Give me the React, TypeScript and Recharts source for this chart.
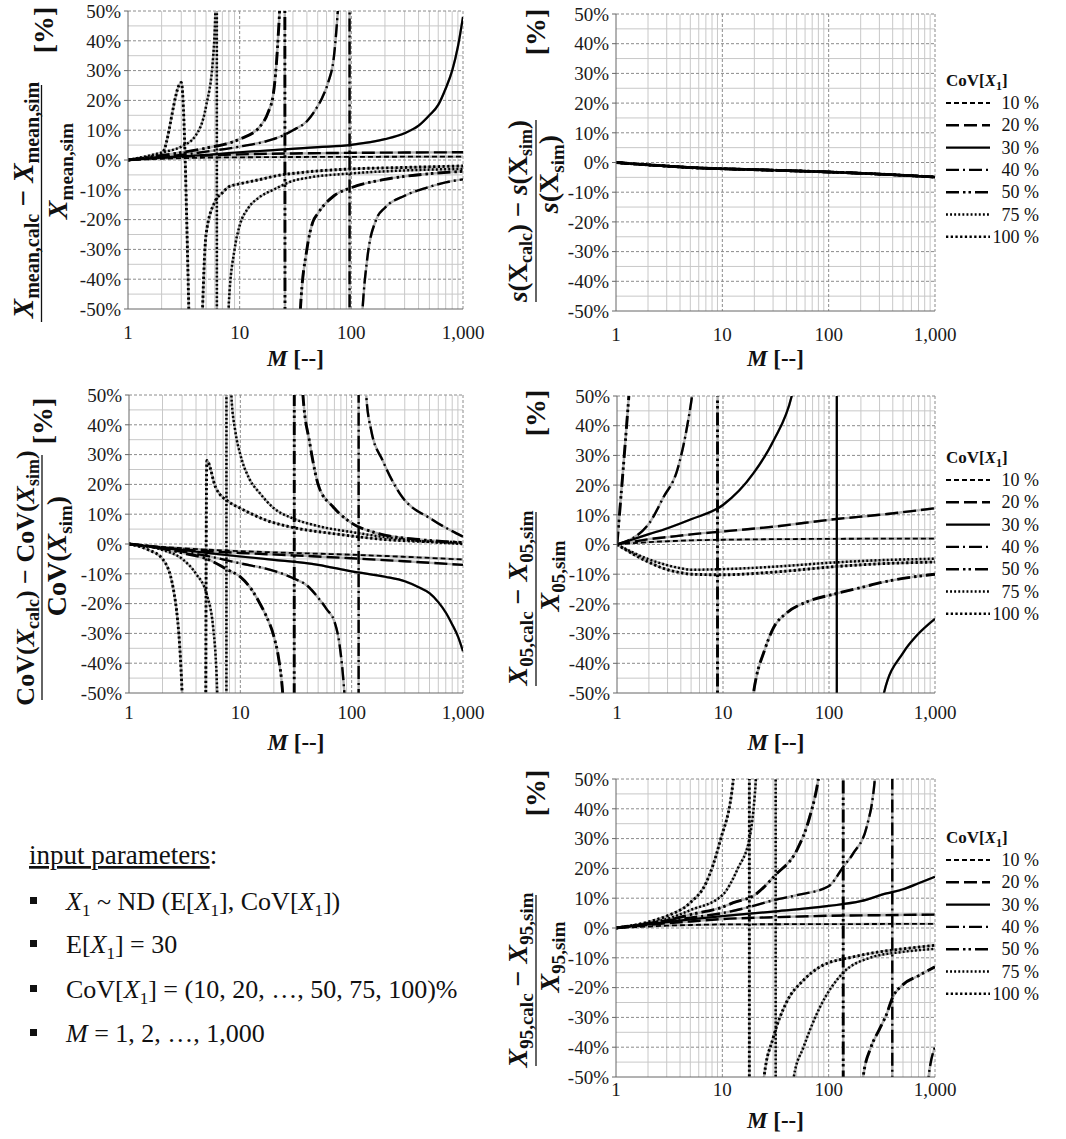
import React from 'react';
import { LineChart, Line, XAxis, YAxis, CartesianGrid } from 'recharts';

type Pt = [number, number];

const SERIF = "'Liberation Serif', 'Times New Roman', serif";

// ---------- axes / categories ----------
const covLabels = ['10 %', '20 %', '30 %', '40 %', '50 %', '75 %', '100 %'];
const decadeTicks = [1, 10, 100, 1000];
const yTicks = [-50, -40, -30, -20, -10, 0, 10, 20, 30, 40, 50];
const yMinorGrid = [-45, -35, -25, -15, -5, 5, 15, 25, 35, 45];
const yMajorGrid = [-40, -30, -20, -10, 0, 10, 20, 30, 40, 50];
const xMinorGrid = [2, 3, 4, 5, 6, 7, 8, 9, 20, 30, 40, 50, 60, 70, 80, 90, 200, 300, 400, 500, 600, 700, 800, 900];
const xMajorGrid = [10, 100, 1000];

// ---------- panel 1: mean ----------
const mean10: Pt[] = [[1, 0], [2, 0.4], [3, 0.6], [5, 0.8], [10, 0.9], [30, 1], [100, 1.05], [300, 1.1], [1000, 1.1]];
const mean20: Pt[] = [[1, 0], [2, 0.8], [3, 1.1], [5, 1.5], [10, 1.9], [30, 2.2], [100, 2.4], [300, 2.5], [1000, 2.6]];
const mean30: Pt[] = [[1, 0], [2, 0.8], [3, 1.2], [5, 1.7], [10, 2.6], [20, 3.3], [50, 4.3], [100, 5.1], [200, 7], [300, 9], [400, 11.5], [500, 15], [600, 18.5], [700, 24], [800, 30], [900, 38], [1000, 48]];
const mean40: Pt[] = [[1, 0], [2, 1], [3, 1.7], [5, 2.8], [10, 4.5], [20, 7], [25, 8.4], [30, 10], [40, 13], [48, 17], [55, 21], [62, 26], [70, 35], [75, 48], [80, 65], [90, 130], [96, 600], [97, -900], [105, -200], [115, -80], [126, -50], [140, -32], [167, -20], [200, -16], [300, -12], [500, -9], [700, -7.5], [1000, -6.5]];
const mean50: Pt[] = [[1, 0], [2, 1.5], [3, 2.5], [5, 4], [10, 7], [15, 11], [18, 16], [20, 22], [22, 40], [23, 55], [24, 90], [25, 400], [26, -600], [30, -120], [35, -50], [40, -30], [45, -21], [50, -18], [70, -12], [100, -9.3], [200, -6.5], [300, -5.5], [500, -4.6], [1000, -3.8]];
const mean75: Pt[] = [[1, 0], [2, 2.5], [3, 4.5], [4, 8], [5, 18], [5.8, 35], [6.1, 55], [6.2, 600], [6.3, -600], [8, -48], [9, -30], [10, -22], [12, -16], [15, -12.5], [20, -10], [30, -7], [40, -6], [100, -4.5], [300, -3.5], [1000, -3]];
const mean100: Pt[] = [[1, 0], [2, 2], [3, 26], [4, -110], [5, -25], [6, -14], [7, -11], [8, -9], [10, -8], [15, -6.6], [20, -5.5], [40, -4], [100, -3], [300, -2.5], [1000, -2]];

// ---------- panel 2: standard deviation (all CoV levels coincide) ----------
const sdevAll: Pt[] = [[1, 0], [2, -0.8], [3, -1.2], [5, -1.7], [10, -2.1], [30, -2.6], [100, -3.2], [300, -3.9], [1000, -4.9]];

// ---------- panel 3: CoV ----------
const cov10: Pt[] = [[1, 0], [2, -1], [3, -1.4], [5, -1.9], [10, -2.4], [30, -3], [100, -3.6], [300, -4.3], [1000, -5.2]];
const cov20: Pt[] = [[1, 0], [2, -1.2], [3, -1.8], [5, -2.4], [10, -3], [30, -3.8], [100, -4.8], [300, -5.8], [1000, -7]];
const cov30: Pt[] = [[1, 0], [2, -1.3], [3, -2], [5, -3], [10, -4.2], [20, -5.3], [50, -7], [100, -9.2], [200, -11], [300, -12.5], [400, -14.5], [500, -16.5], [600, -19.5], [700, -23], [800, -27], [900, -31], [1000, -36]];
const cov40: Pt[] = [[1, 0], [2, -1.5], [3, -2.5], [5, -4], [10, -6.5], [20, -9], [30, -11.5], [40, -14], [50, -18], [60, -22], [70, -26], [78, -34], [86, -50], [95, -80], [105, -150], [115, -900], [116, 900], [125, 120], [135, 50], [150, 38], [190, 28], [270, 17], [540, 8], [1000, 2.5]];
const cov50: Pt[] = [[1, 0], [2, -1.5], [3, -3], [5, -5], [8, -9], [10, -11], [13, -16], [15, -20], [17, -24], [20, -31], [22, -38], [24, -50], [26, -75], [28, -150], [30, -900], [31, 900], [33, 150], [36.5, 50], [42, 34], [51, 19], [68, 12.5], [100, 7], [170, 3.6], [400, 1.5], [1000, 0.5]];
const cov75: Pt[] = [[1, 0], [2, -2], [3, -5], [4, -10], [5, -17], [5.7, -28], [6.2, -50], [7, -200], [7.4, -1500], [7.6, 1500], [8, 250], [8.3, 50], [9, 38], [10, 30], [12, 22], [15, 17], [20, 12], [30, 8.5], [50, 6], [100, 4], [300, 1.5], [1000, 0]];
const cov100: Pt[] = [[1, 0], [1.5, -2], [2, -5], [2.5, -15], [3, -50], [4, -3000], [5, 28], [6, 19], [8, 14], [10, 12], [17, 8], [30, 5.5], [68, 3.5], [200, 1.5], [1000, 0.5]];

// ---------- panel 4: 5% quantile ----------
const q05_10: Pt[] = [[1, 0], [2, 0.8], [3, 1.1], [5, 1.4], [10, 1.6], [100, 1.9], [1000, 2]];
const q05_20: Pt[] = [[1, 0], [2, 1.8], [3, 2.5], [5, 3.4], [10, 4.4], [30, 6], [118, 8.6], [300, 10], [1000, 12.2]];
const q05_30: Pt[] = [[1, 0], [2, 3.5], [3, 5.5], [5, 8.5], [10, 13.3], [19.4, 24], [30, 35], [44.5, 50], [60, 75], [80, 130], [100, 300], [118, 3000], [119, -3000], [200, -120], [300, -58], [330, -50], [500, -36.5], [700, -30], [1000, -25]];
const q05_40: Pt[] = [[1, 0], [2, 7], [2.75, 16], [3.7, 25], [4.6, 40], [5.1, 50], [6, 75], [8, 150]];
const q05_50: Pt[] = [[1, 0], [2, 165], [5, 600], [8.85, 3000], [8.9, -3000], [15, -90], [19.4, -50], [25, -35], [30, -28], [40, -23], [60, -19.5], [118, -16.5], [200, -14.5], [350, -12.4], [600, -11], [1000, -10]];
const q05_75: Pt[] = [[1, 0], [2, -5], [3, -7], [4, -8], [5, -8.5], [10, -8.3], [30, -7.5], [118, -6], [300, -5.3], [1000, -4.8]];
const q05_100: Pt[] = [[1, 0], [2, -6], [3, -8.5], [4, -9.5], [5, -10], [10, -10.2], [30, -9.3], [118, -7.4], [300, -6.5], [1000, -5.9]];

// ---------- panel 5: 95% quantile ----------
const q95_10: Pt[] = [[1, 0], [2, 0.5], [3, 0.8], [5, 1], [10, 1.2], [100, 1.3], [1000, 1.4]];
const q95_20: Pt[] = [[1, 0], [2, 1], [3, 1.6], [5, 2.2], [10, 3], [30, 3.6], [100, 4.1], [300, 4.3], [1000, 4.5]];
const q95_30: Pt[] = [[1, 0], [2, 1.2], [3, 2], [5, 2.9], [10, 4], [30, 5.5], [100, 7.4], [200, 9], [350, 11.6], [500, 13], [700, 15], [1000, 17.2]];
const q95_40: Pt[] = [[1, 0], [2, 1.5], [3, 2.5], [5, 3.5], [10, 5], [20, 7.5], [30, 9.3], [50, 11], [100, 14], [137, 20.5], [170, 25], [228, 34], [272, 50], [310, 80], [360, 200], [395, 3000], [398, -3000], [500, -300], [700, -100], [870, -50], [1000, -40]];
const q95_50: Pt[] = [[1, 0], [2, 1.5], [3, 2.5], [5, 4.5], [10, 7], [12.7, 8.5], [20, 11], [32, 18], [50, 26], [66, 37], [80, 50], [100, 80], [125, 300], [136, 3000], [138, -3000], [180, -100], [211, -50], [250, -40], [300, -34], [350, -29], [397, -23.5], [500, -19], [700, -16], [1000, -13]];
const q95_75: Pt[] = [[1, 0], [2, 1.5], [3, 3], [5, 6], [10, 11], [14, 20], [18, 30], [20.7, 50], [25, 120], [31.5, 3000], [32, -3000], [40, -100], [47, -50], [58, -40], [83, -26.5], [137, -15], [244, -10], [500, -8], [1000, -7]];
const q95_100: Pt[] = [[1, 0], [2, 2], [3, 4], [5, 8.5], [7, 15], [9.5, 29], [12.7, 50], [15, 100], [17.9, 3000], [18, -3000], [22, -100], [24.7, -50], [30, -37], [40, -25], [58, -17.5], [83, -13], [170, -9.7], [300, -8], [500, -7], [1000, -5.8]];

// ---------- styles ----------
const lineStyles = [
  { dash: '5 3', width: 1.8 },
  { dash: '13 5', width: 2.4 },
  { dash: '', width: 2.2 },
  { dash: '13 4 2 4', width: 2.4 },
  { dash: '13 4 2.5 3 2.5 4', width: 2.9 },
  { dash: '1.9 2.2', width: 2.5 },
  { dash: '2.3 2.4', width: 2.9 },
];

type Box = { l: number; t: number; r: number; b: number; tm: number };
const P1: Box = { l: 128, t: 11, r: 463, b: 309, tm: 17 };
const P2: Box = { l: 616, t: 14, r: 935, b: 311, tm: 17 };
const P3: Box = { l: 129, t: 395, r: 463, b: 693, tm: 13 };
const P4: Box = { l: 617, t: 396, r: 935, b: 693, tm: 13 };
const P5: Box = { l: 616, t: 779, r: 935, b: 1077, tm: 6 };

const toRows = (pts: Pt[]) => pts.map(([m, v]) => ({ m, v }));
const fmtM = (v: number) => (v === 1000 ? '1,000' : String(v));

function Panel({ box, series }: { box: Box; series: Pt[][] }) {
  const YW = 70, MT = 14, MR = 30, XH = 40;
  const w = box.r - box.l;
  const h = box.b - box.t;
  return (
    <div style={{ position: 'absolute', left: box.l - YW, top: box.t - MT, fontFamily: SERIF }}>
      <LineChart width={YW + w + MR} height={MT + h + XH} margin={{ top: MT, right: MR, bottom: 0, left: 0 }} style={{ fontFamily: SERIF }}>
        <CartesianGrid horizontalValues={yMinorGrid} verticalValues={xMinorGrid} stroke="#c8c8c8" strokeWidth={1} />
        <CartesianGrid horizontalValues={yMajorGrid} verticalValues={xMajorGrid} stroke="#8c8c8c" strokeDasharray="3 2" strokeWidth={1} />
        <XAxis
          type="number"
          dataKey="m"
          scale="log"
          domain={[1, 1000]}
          allowDataOverflow
          ticks={decadeTicks}
          interval={0}
          tickFormatter={fmtM}
          height={XH}
          tickLine={false}
          tickSize={0}
          tickMargin={box.tm}
          axisLine={{ stroke: '#666' }}
          tick={{ fontSize: 19, fill: '#1a1a1a', fontFamily: SERIF }}
        />
        <YAxis
          type="number"
          domain={[-50, 50]}
          allowDataOverflow
          ticks={yTicks}
          interval={0}
          tickFormatter={(v: number) => `${v}%`}
          width={YW}
          tickSize={4}
          tickMargin={3}
          axisLine={{ stroke: '#666' }}
          tickLine={{ stroke: '#666' }}
          tick={{ fontSize: 19, fill: '#1a1a1a', fontFamily: SERIF }}
        />
        {series.map((pts, i) => (
          <Line key={'g' + i} data={toRows(pts)} dataKey="v" type="monotone" stroke="#b0b0b0" strokeWidth={2.4} dot={false} activeDot={false} isAnimationActive={false} />
        ))}
        {series.map((pts, i) => (
          <Line
            key={'b' + i}
            data={toRows(pts)}
            dataKey="v"
            type="monotone"
            stroke="#000"
            strokeWidth={lineStyles[i].width}
            strokeDasharray={lineStyles[i].dash || undefined}
            dot={false}
            activeDot={false}
            isAnimationActive={false}
          />
        ))}
      </LineChart>
    </div>
  );
}

type Seg = { t: string; sub?: boolean; it?: boolean };

function rich(segs: Seg[], size: number, subSize: number, subShift: number) {
  let off = 0;
  return segs.map((s, i) => {
    const target = s.sub ? subShift : 0;
    const dy = target - off;
    off = target;
    return (
      <tspan key={i} dy={dy} fontSize={s.sub ? subSize : size} fontStyle={s.it ? 'italic' : 'normal'}>
        {s.t}
      </tspan>
    );
  });
}

function RotText({ x, y, segs, size = 28, subSize = 19 }: { x: number; y: number; segs: Seg[]; size?: number; subSize?: number }) {
  return (
    <text transform={`translate(${x},${y}) rotate(-90)`} textAnchor="middle" fontFamily={SERIF} fontWeight="bold" fill="#111">
      {rich(segs, size, subSize, size * 0.2)}
    </text>
  );
}

type Title = { pct: [number, number]; num: Seg[]; numX: number; numY: number; numSize: number; bar: [number, number, number]; den: Seg[]; denX: number; denY: number };

const NB = '\u00A0';
const titles: Title[] = [
  {
    pct: [53, 30],
    num: [{ t: 'X', it: true }, { t: 'mean,calc', sub: true }, { t: `${NB}−${NB}` }, { t: 'X', it: true }, { t: 'mean,sim', sub: true }],
    numX: 33, numY: 200, numSize: 29, bar: [41.5, 85, 322],
    den: [{ t: 'X', it: true }, { t: 'mean,sim', sub: true }], denX: 67, denY: 171,
  },
  {
    pct: [545, 32],
    num: [{ t: 's', it: true }, { t: '(X' }, { t: 'calc', sub: true }, { t: `)${NB}−${NB}` }, { t: 's', it: true }, { t: '(X' }, { t: 'sim', sub: true }, { t: ')' }],
    numX: 527, numY: 211, numSize: 27, bar: [536, 120, 302],
    den: [{ t: 's', it: true }, { t: '(X' }, { t: 'sim', sub: true }, { t: ')' }], denX: 558, denY: 174,
  },
  {
    pct: [52, 421],
    num: [{ t: 'CoV(' }, { t: 'X', it: true }, { t: 'calc', sub: true }, { t: `)${NB}−${NB}CoV(` }, { t: 'X', it: true }, { t: 'sim', sub: true }, { t: ')' }],
    numX: 34, numY: 578, numSize: 26, bar: [42, 455, 700],
    den: [{ t: 'CoV(' }, { t: 'X', it: true }, { t: 'sim', sub: true }, { t: ')' }], denX: 66, denY: 556,
  },
  {
    pct: [545, 413],
    num: [{ t: 'X', it: true }, { t: '05,calc', sub: true }, { t: `${NB}−${NB}` }, { t: 'X', it: true }, { t: '05,sim', sub: true }],
    numX: 527, numY: 598, numSize: 28, bar: [536, 512, 686],
    den: [{ t: 'X', it: true }, { t: '05,sim', sub: true }], denX: 559, denY: 576,
  },
  {
    pct: [545, 793],
    num: [{ t: 'X', it: true }, { t: '95,calc', sub: true }, { t: `${NB}−${NB}` }, { t: 'X', it: true }, { t: '95,sim', sub: true }],
    numX: 527, numY: 980, numSize: 28, bar: [536, 895, 1066],
    den: [{ t: 'X', it: true }, { t: '95,sim', sub: true }], denX: 559, denY: 957,
  },
];

function YTitle({ d }: { d: Title }) {
  return (
    <g>
      <RotText x={d.pct[0]} y={d.pct[1]} segs={[{ t: '[%]' }]} size={28} />
      <RotText x={d.numX} y={d.numY} segs={d.num} size={d.numSize} subSize={Math.round(d.numSize * 0.68)} />
      <line x1={d.bar[0]} x2={d.bar[0]} y1={d.bar[1]} y2={d.bar[2]} stroke="#111" strokeWidth={1.3} />
      <RotText x={d.denX} y={d.denY} segs={d.den} size={28} />
    </g>
  );
}

function XTitle({ box, y }: { box: Box; y: number }) {
  return (
    <text x={(box.l + box.r) / 2} y={y} textAnchor="middle" fontFamily={SERIF} fontWeight="bold" fontSize={23} fill="#111">
      <tspan fontStyle="italic">M</tspan>
      <tspan>{`${NB}[--]`}</tspan>
    </text>
  );
}

function Legend({ top }: { top: number }) {
  const x0 = 946;
  return (
    <g fontFamily={SERIF} fill="#111">
      <text x={x0} y={top + 6} fontSize={17} fontWeight="bold">
        <tspan>CoV[</tspan>
        <tspan fontStyle="italic">X</tspan>
        <tspan fontSize={12} dy={4}>1</tspan>
        <tspan dy={-4}>]</tspan>
      </text>
      {covLabels.map((lab, i) => {
        const y = top + 23 + i * 22.3;
        return (
          <g key={lab}>
            <line x1={x0} x2={x0 + 44} y1={y} y2={y} stroke="#000" strokeWidth={Math.min(lineStyles[i].width, 2.4)} strokeDasharray={lineStyles[i].dash || undefined} />
            <text x={1039} y={y + 6} fontSize={18} textAnchor="end">{lab}</text>
          </g>
        );
      })}
    </g>
  );
}

const inputLines: Seg[][] = [
  [{ t: 'X', it: true }, { t: '1', sub: true }, { t: `${NB}~ ND (E[` }, { t: 'X', it: true }, { t: '1', sub: true }, { t: '], CoV[' }, { t: 'X', it: true }, { t: '1', sub: true }, { t: '])' }],
  [{ t: 'E[' }, { t: 'X', it: true }, { t: '1', sub: true }, { t: '] = 30' }],
  [{ t: 'CoV[' }, { t: 'X', it: true }, { t: '1', sub: true }, { t: '] = (10, 20, …, 50, 75, 100)%' }],
  [{ t: 'M', it: true }, { t: ' = 1, 2, …, 1,000' }],
];
const inputBaselines = [910, 953, 998, 1042];

function InputBlock() {
  return (
    <g fontFamily={SERIF} fill="#111">
      <text x={29} y={864} fontSize={27}>
        <tspan textDecoration="underline">input parameters</tspan>
        <tspan>:</tspan>
      </text>
      {inputLines.map((segs, i) => (
        <g key={i}>
          <rect x={30} y={inputBaselines[i] - 13} width={7} height={7} fill="#111" />
          <text x={66} y={inputBaselines[i]} fontSize={26}>
            {rich(segs, 26, 17, 6)}
          </text>
        </g>
      ))}
    </g>
  );
}

export default function App() {
  return (
    <div style={{ position: 'absolute', left: 0, top: 0, width: 1066, height: 1139, background: '#fff', overflow: 'hidden' }}>
      <Panel box={P1} series={[mean10, mean20, mean30, mean40, mean50, mean75, mean100]} />
      <Panel box={P2} series={[sdevAll, sdevAll, sdevAll, sdevAll, sdevAll, sdevAll, sdevAll]} />
      <Panel box={P3} series={[cov10, cov20, cov30, cov40, cov50, cov75, cov100]} />
      <Panel box={P4} series={[q05_10, q05_20, q05_30, q05_40, q05_50, q05_75, q05_100]} />
      <Panel box={P5} series={[q95_10, q95_20, q95_30, q95_40, q95_50, q95_75, q95_100]} />
      <svg width={1066} height={1139} style={{ position: 'absolute', left: 0, top: 0, pointerEvents: 'none' }}>
        {titles.map((d, i) => (
          <YTitle key={i} d={d} />
        ))}
        <XTitle box={P1} y={366} />
        <XTitle box={P2} y={366} />
        <XTitle box={P3} y={750} />
        <XTitle box={P4} y={750} />
        <XTitle box={P5} y={1128} />
        <Legend top={P2.t + 66} />
        <Legend top={P4.t + 61} />
        <Legend top={P5.t + 58} />
        <InputBlock />
      </svg>
    </div>
  );
}
